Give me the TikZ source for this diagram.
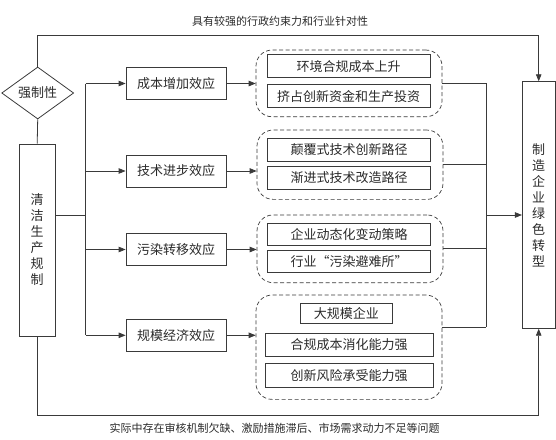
\documentclass[tikz,border=0pt]{standalone}
\usepackage{fontspec}
\newfontfamily\cjk{Noto Sans CJK SC}
\usetikzlibrary{shapes.geometric,arrows.meta}
\definecolor{ln}{HTML}{3A3A3A}
\definecolor{tx}{HTML}{2A2A2A}
\tikzset{
  every node/.style={font=\cjk\fontsize{13}{16}\selectfont, text=tx},
  box/.style={draw=ln, line width=0.8pt, inner sep=0pt, minimum width=100pt, minimum height=32pt},
  ibox/.style={draw=ln, line width=0.8pt, inner sep=0pt, minimum width=163pt, minimum height=23pt},
  grp/.style={draw=ln, line width=0.7pt, dash pattern=on 4pt off 2.5pt, rounded corners=16pt, inner sep=0pt, minimum width=186pt},
  vbox/.style={draw=ln, line width=0.8pt, inner sep=0pt, align=center},
  conn/.style={draw=ln, line width=0.8pt},
  arr/.style={conn, -{Triangle[length=7pt,width=5.5pt]}},
  note/.style={font=\cjk\fontsize{11}{13}\selectfont},
}
\begin{document}
\begin{tikzpicture}[x=1pt,y=-1pt]
\useasboundingbox (0,0) rectangle (556,439);
% left side
\node[diamond, draw=ln, line width=0.8pt, inner sep=0pt, minimum width=72pt, minimum height=52pt] (dia) at (37.7,93) {强制性};
\node[vbox, minimum width=36.3pt, minimum height=192pt] (lb) at (37.2,240) {清\\洁\\生\\产\\规\\制};
\draw[conn] (dia.south) -- (lb.north);
% right box
\node[vbox, minimum width=32.7pt, minimum height=246.6pt] (rb) at (538.7,205) {制\\造\\企\\业\\绿\\色\\转\\型};
% top and bottom feedback lines
\coordinate (topy) at (0,35);
\coordinate (boty) at (0,415.7);
\draw[arr] (dia.north) -- (dia.north |- topy) -| (rb.north);
\draw[arr] (lb.south) -- (lb.south |- boty) -| (rb.south);
\node[note] (tt) at (280,21.7) {具有较强的行政约束力和行业针对性};
\node[note] (bt) at (274.5,428) {实际中存在审核机制欠缺、激励措施滞后、市场需求动力不足等问题};
% effect boxes
\node[box] (e1) at (176,83.5) {成本增加效应};
\node[box] (e2) at (176,171) {技术进步效应};
\node[box] (e3) at (176,249.5) {污染转移效应};
\node[box] (e4) at (176,335.3) {规模经济效应};
% trunk
\coordinate (tr) at (85.7,215);
\coordinate (ta) at (85.7,83.5);
\coordinate (tb) at (85.7,335.3);
\draw[conn] (lb.east |- tr) -- (tr);
\draw[conn] (ta) -- (tb);
\draw[arr] (e1.west -| ta) -- (e1.west);
\draw[arr] (e2.west -| ta) -- (e2.west);
\draw[arr] (e3.west -| ta) -- (e3.west);
\draw[arr] (e4.west -| ta) -- (e4.west);
% groups
\node[grp, minimum height=66.7pt] (g1) at (349,83.4) {};
\node[grp, minimum height=69.3pt] (g2) at (350,164.7) {};
\node[grp, minimum height=67.7pt] (g3) at (350,248.8) {};
\node[grp, minimum height=104.3pt] (g4) at (349,347.2) {};
\draw[arr] (e1.east) -- (e1.east -| g1.west);
\draw[arr] (e2.east) -- (e2.east -| g2.west);
\draw[arr] (e3.east) -- (e3.east -| g3.west);
\draw[arr] (e4.east) -- (e4.east -| g4.west);
% inner boxes
\node[ibox] (i11) at (348.5,66.3) {环境合规成本上升};
\node[ibox] (i12) at (348.5,96.2) {挤占创新资金和生产投资};
\node[ibox] (i21) at (349,150) {颠覆式技术创新路径};
\node[ibox] (i22) at (349,178) {渐进式技术改造路径};
\node[ibox, minimum height=21.5pt] (i31) at (349,234.2) {企业动态化变动策略};
\node[ibox, minimum height=21.5pt] (i32) at (349,261.2) {行业“污染避难所”};
\node[ibox, minimum width=92.7pt, minimum height=20pt] (i41) at (346.3,313.3) {大规模企业};
\node[ibox, minimum width=168pt, minimum height=23.3pt] (i42) at (349,345) {合规成本消化能力强};
\node[ibox, minimum width=168pt, minimum height=23.3pt] (i43) at (349,375.3) {创新风险承受能力强};
% collector
\coordinate (c1) at (486,83.4);
\coordinate (c4) at (486,327.3);
\coordinate (ca) at (486,215);
\draw[conn] (g1.east) -- (g1.east -| c1);
\draw[conn] (g2.east) -- (g2.east -| c1);
\draw[conn] (g3.east) -- (g3.east -| c1);
\draw[conn] (g4.east |- c4) -- (c4);
\draw[conn] (c1) -- (c4);
\draw[arr] (ca) -- (ca -| rb.west);
\end{tikzpicture}
\end{document}
